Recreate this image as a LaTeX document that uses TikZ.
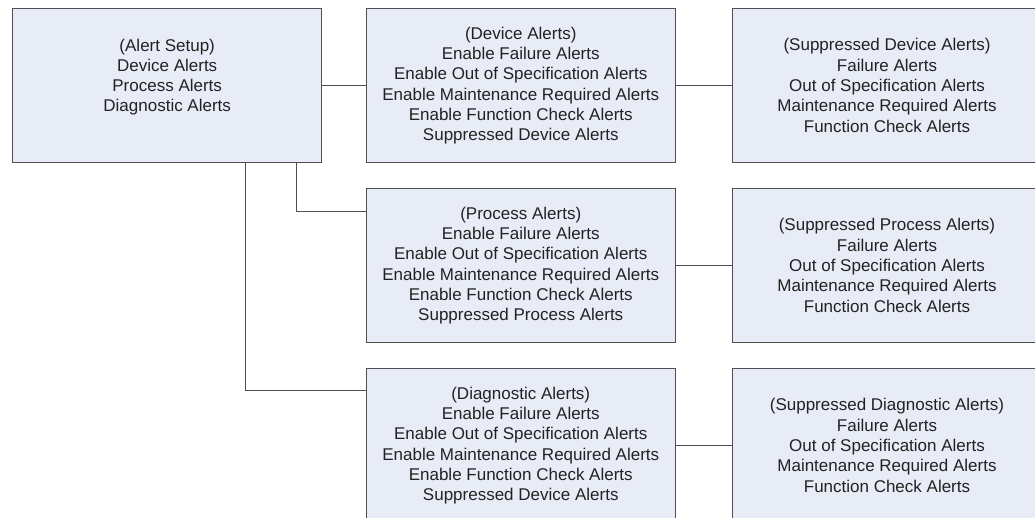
\documentclass[tikz,border=0pt]{standalone}
\usepackage{fontspec}
\setmainfont{Liberation Sans}
\definecolor{boxfill}{HTML}{E8ECF7}
\definecolor{boxline}{HTML}{4F4F4F}
\definecolor{textgray}{HTML}{222222}
\begin{document}
\begin{tikzpicture}[x=1pt,y=1pt,
    alertbox/.style={draw=boxline,fill=boxfill,line width=0.9pt,
      minimum width=308.5pt,minimum height=154pt,inner sep=0pt,
      align=center,text=textgray,font=\fontsize{17}{20.3}\selectfont},
    link/.style={draw=boxline,line width=0.9pt}]
    \useasboundingbox (0,0) rectangle (1035,518);
    \clip (0,0) rectangle (1035,518);

    % Alert setup
    \node[alertbox,minimum width=309pt] (setup) at (167.2,432.5)
      {(Alert Setup)\\Device Alerts\\Process Alerts\\Diagnostic Alerts\\\mbox{}};

    % Device alerts
    \node[alertbox] (device) at (520.75,432.5)
      {(Device Alerts)\\Enable Failure Alerts\\Enable Out of Specification Alerts\\
       Enable Maintenance Required Alerts\\Enable Function Check Alerts\\Suppressed Device Alerts};
    \node[alertbox] (supdevice) at (887,432.5)
      {(Suppressed Device Alerts)\\Failure Alerts\\Out of Specification Alerts\\
       Maintenance Required Alerts\\Function Check Alerts};

    % Process alerts
    \node[alertbox] (process) at (520.75,252.5)
      {(Process Alerts)\\Enable Failure Alerts\\Enable Out of Specification Alerts\\
       Enable Maintenance Required Alerts\\Enable Function Check Alerts\\Suppressed Process Alerts};
    \node[alertbox] (supprocess) at (887,252.5)
      {(Suppressed Process Alerts)\\Failure Alerts\\Out of Specification Alerts\\
       Maintenance Required Alerts\\Function Check Alerts};

    % Diagnostic alerts
    \node[alertbox] (diagnostic) at (520.75,72.5)
      {(Diagnostic Alerts)\\Enable Failure Alerts\\Enable Out of Specification Alerts\\
       Enable Maintenance Required Alerts\\Enable Function Check Alerts\\Suppressed Device Alerts};
    \node[alertbox] (supdiagnostic) at (887,72.5)
      {(Suppressed Diagnostic Alerts)\\Failure Alerts\\Out of Specification Alerts\\
       Maintenance Required Alerts\\Function Check Alerts};

    % Connectors
    \draw[link] (setup) -- (device);
    \draw[link] (device) -- (supdevice);
    \draw[link] (process) -- (supprocess);
    \draw[link] (diagnostic) -- (supdiagnostic);
    \draw[link] ([xshift=-26pt]setup.south east) |- ([yshift=54.5pt]process.west);
    \draw[link] ([xshift=-76.7pt]setup.south east) |- ([yshift=54.8pt]diagnostic.west);
  \end{tikzpicture}
\end{document}
